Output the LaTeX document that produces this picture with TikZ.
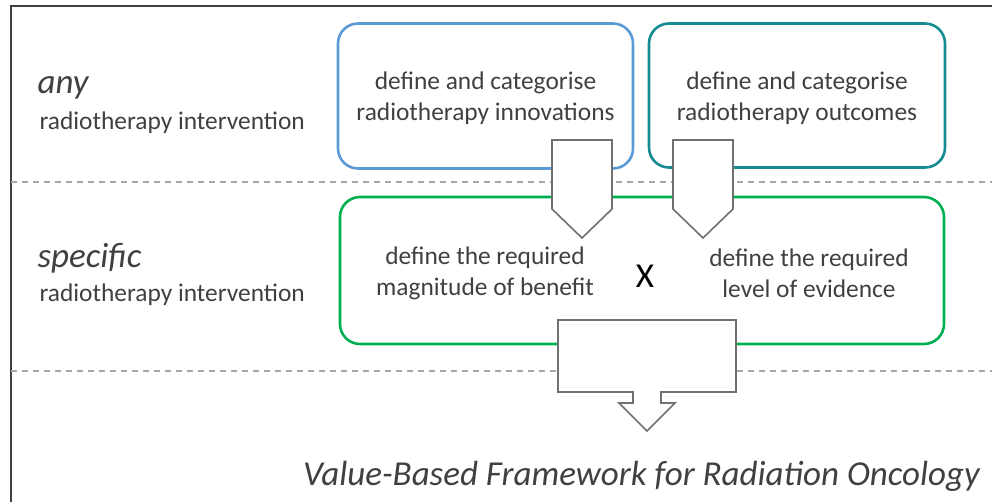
\documentclass[tikz,border=0pt]{standalone}
\usepackage{fontspec}
\setmainfont{Carlito}
\definecolor{boxblue}{RGB}{91,155,213}
\definecolor{boxteal}{RGB}{20,140,145}
\definecolor{boxgreen}{RGB}{0,176,80}
\definecolor{txtgray}{RGB}{64,64,64}
\definecolor{arrgray}{RGB}{112,112,112}
\begin{document}
\begin{tikzpicture}[x=1pt, y=-1pt,
  rbox/.style={draw, line width=2.6pt, rounded corners=20pt, inner sep=0pt},
  boxtext/.style={text=txtgray, align=center, font=\fontsize{25.4}{31}\selectfont},
  sidetext/.style={text=txtgray, anchor=west, font=\fontsize{25.4}{29}\selectfont},
  bigtext/.style={text=txtgray, anchor=west, font=\fontsize{35}{38}\selectfont\itshape},
  blockarrow/.style={draw=arrgray, fill=white, line width=1.6pt, line join=miter},
  sepline/.style={draw=gray!70, line width=1.6pt, dash pattern=on 6pt off 5pt}]
  \useasboundingbox (0, 0) rectangle (992, 502);
  \draw[black!75, line width=1.8pt] (11, 502) -- (11, 6) -- (992, 6);
  \draw[sepline] (11, 182) coordinate(s1) -- (992, 182) coordinate(s2);
  \draw[sepline] (11, 371) coordinate(t1) -- (992, 371) coordinate(t2);

  \node[rbox, draw=boxblue, minimum width=295pt, minimum height=145pt] (innov) at (485.5, 96) {};
  \node[rbox, draw=boxteal, minimum width=296pt, minimum height=144pt] (outc) at (797, 95.5) {};
  \node[rbox, draw=boxgreen, minimum width=604pt, minimum height=147pt] (specbox) at (642, 270.5) {};

  \node[boxtext] (innovtext) at (485.5, 98) {define and categorise\\radiotherapy innovations};
  \node[boxtext] (outctext) at (797, 98) {define and categorise\\radiotherapy outcomes};
  \node[boxtext] (benefit) at (485, 273) {define the required\\magnitude of benefit};
  \node[boxtext] (evidence) at (809, 273) {define the required\\level of evidence};
  \node[font=\fontsize{35}{38}\selectfont] (times) at (645, 276) {X};

  \node[bigtext] (any) at (34, 88) {any};
  \node[sidetext] (anyrt) at (36, 123) {radiotherapy intervention};
  \node[bigtext] (specific) at (34, 258) {specific};
  \node[sidetext] (specrt) at (36, 295) {radiotherapy intervention};

  \draw[blockarrow] (552, 140) -- (612, 140) -- (612, 209) -- (582, 238) -- (552, 209) -- cycle;
  \draw[blockarrow] (673, 140) -- (733, 140) -- (733, 209) -- (703, 238) -- (673, 209) -- cycle;
  \draw[blockarrow] (558, 320) -- (736, 320) -- (736, 392) -- (661, 392) -- (661, 403) -- (675, 403)
    -- (647, 431) -- (619, 403) -- (633, 403) -- (633, 392) -- (558, 392) -- cycle;

  \node[bigtext, anchor=center] (title) at (641.5, 476) {Value-Based Framework for Radiation Oncology};
\end{tikzpicture}
\end{document}
